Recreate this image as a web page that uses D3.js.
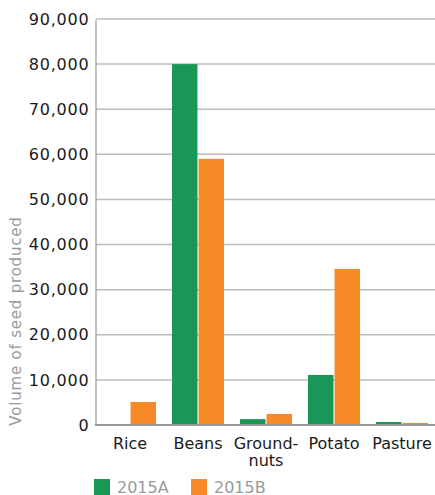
<!DOCTYPE html>
<html>
<head>
<meta charset="utf-8">
<script src="https://cdn.jsdelivr.net/npm/d3@7"></script>
<style>
  html, body { margin: 0; padding: 0; background: #fff; }
  svg { display: block; font-family: "DejaVu Sans", Verdana, sans-serif; }
  .tick text, .ytitle { letter-spacing: 0.8px; }
</style>
</head>
<body>
<svg id="chart" width="435" height="495"></svg>
<script>
// Seed production by crop, two seasons
const categories = [["Rice"], ["Beans"], ["Ground-", "nuts"], ["Potato"], ["Pasture"]];
const seriesNames = ["2015A", "2015B"];
const values2015A = [0, 80000, 1300, 11100, 650];
const values2015B = [5100, 59000, 2450, 34600, 450];
const yTicks = [0, 10000, 20000, 30000, 40000, 50000, 60000, 70000, 80000, 90000];
const colors = ["#1a9656", "#f58a27"];

const svg = d3.select("#chart");
const margin = { left: 96, right: 0, top: 19, bottom: 70 };
const width = 435, height = 495;
const plotBottom = 425;

const x0 = d3.scaleBand()
  .domain(d3.range(categories.length))
  .range([margin.left, margin.left + 68 * categories.length])
  .padding(0);
const x1 = d3.scaleBand()
  .domain(d3.range(seriesNames.length))
  .range([8, 60])
  .paddingInner(0.04);
const y = d3.scaleLinear().domain([0, 90000]).range([plotBottom, margin.top]);

// horizontal gridlines
svg.append("g")
  .selectAll("line")
  .data(yTicks.filter(d => d > 0))
  .join("line")
  .attr("x1", margin.left).attr("x2", width)
  .attr("y1", d => y(d)).attr("y2", d => y(d))
  .attr("stroke", "#bcbcbc").attr("stroke-width", 1.5);

// y axis
const yAxis = svg.append("g")
  .attr("transform", `translate(${margin.left - 0.5},0)`)
  .call(d3.axisLeft(y).tickValues(yTicks).tickSize(0).tickPadding(6).tickFormat(d3.format(",")));
yAxis.select(".domain").attr("stroke", "#9a9a9a").attr("stroke-width", 1.2);
yAxis.selectAll("text")
  .attr("font-size", 16)
  .attr("fill", "#1a1a1a")
  .attr("font-family", "DejaVu Sans, Verdana, sans-serif");

// bars
const series = [values2015A, values2015B];
const groups = svg.append("g")
  .selectAll("g")
  .data(categories.map((c, i) => i))
  .join("g")
  .attr("transform", i => `translate(${x0(i)},0)`);
groups.selectAll("rect")
  .data(i => series.map((s, k) => ({ k, v: s[i] })))
  .join("rect")
  .attr("x", d => x1(d.k))
  .attr("width", x1.bandwidth())
  .attr("y", d => y(d.v))
  .attr("height", d => plotBottom - y(d.v))
  .attr("fill", d => colors[d.k]);

// baseline
svg.append("line")
  .attr("x1", margin.left - 1).attr("x2", width)
  .attr("y1", plotBottom).attr("y2", plotBottom)
  .attr("stroke", "#9a9a9a").attr("stroke-width", 2);

// category labels
const catLabels = svg.append("g")
  .selectAll("text")
  .data(categories.map((c, i) => ({ c, i })))
  .join("text")
  .attr("x", d => x0(d.i) + x0.bandwidth() / 2)
  .attr("y", 449)
  .attr("text-anchor", "middle")
  .attr("font-size", 16)
  .attr("fill", "#1a1a1a");
catLabels.selectAll("tspan")
  .data(d => d.c.map((t, j) => ({ t, j, x: x0(d.i) + x0.bandwidth() / 2 })))
  .join("tspan")
  .attr("x", d => d.x)
  .attr("dy", d => d.j === 0 ? 0 : 17)
  .text(d => d.t);

// y axis title
svg.append("text")
  .attr("class", "ytitle")
  .attr("transform", `translate(21,${(plotBottom + 217) / 2}) rotate(-90)`)
  .attr("text-anchor", "middle")
  .attr("font-size", 15)
  .attr("fill", "#9a9a9a")
  .text("Volume of seed produced");

// legend
const legend = svg.append("g")
  .selectAll("g")
  .data(seriesNames.map((n, k) => ({ n, k })))
  .join("g")
  .attr("transform", d => `translate(${94 + d.k * 97},479)`);
legend.append("rect")
  .attr("width", 16).attr("height", 16)
  .attr("fill", d => colors[d.k]);
legend.append("text")
  .attr("x", 23).attr("y", 14)
  .attr("font-size", 16)
  .attr("fill", "#9a9a9a")
  .text(d => d.n);
</script>
</body>
</html>
